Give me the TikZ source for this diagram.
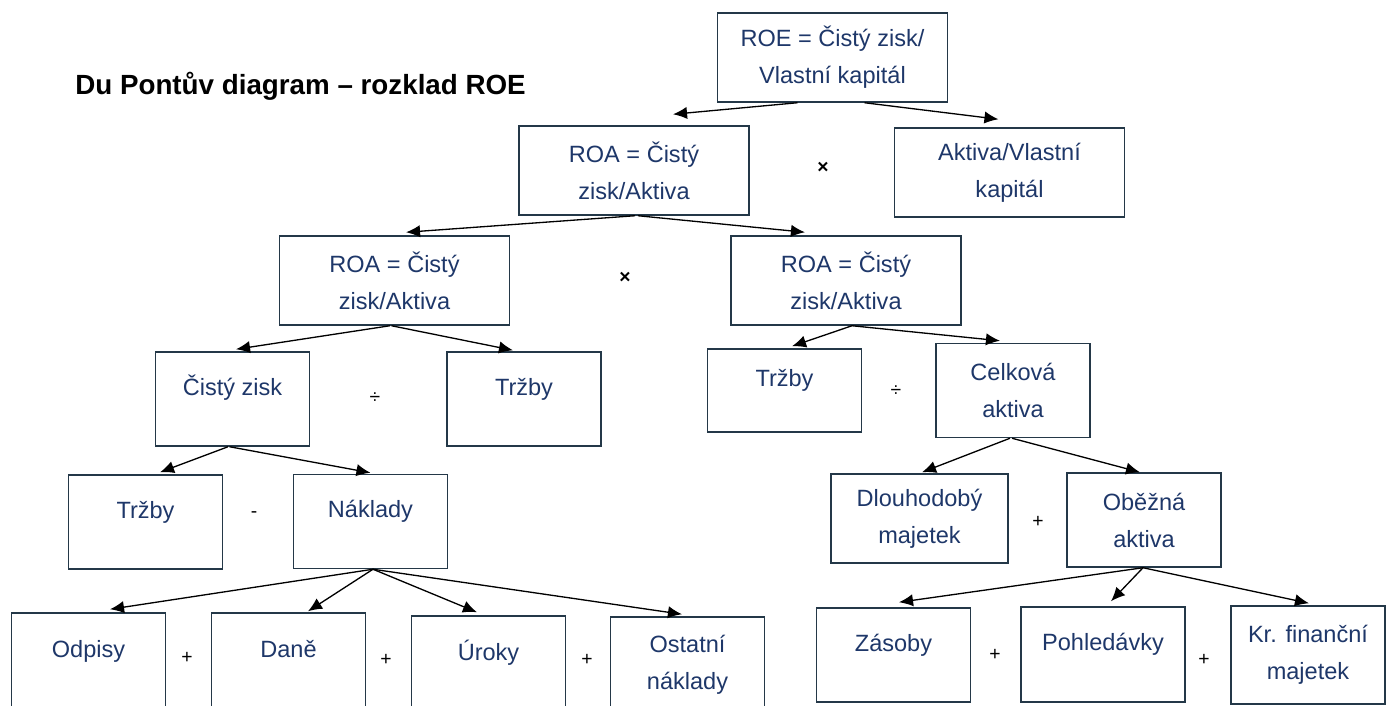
\documentclass[tikz,border=0pt]{standalone}
\usepackage{fontspec}
\setmainfont{Liberation Sans}
\usetikzlibrary{calc,arrows.meta}
\definecolor{boxline}{RGB}{36,56,72}
\definecolor{boxtext}{RGB}{30,55,105}

\begin{document}
\begin{tikzpicture}[
x=0.02cm, y=-0.02cm,
boxw/.style={
  draw=boxline,
  line width=0.85pt,
  text=boxtext,
  align=center,
  inner sep=0pt,
  font=\fontsize{13.4}{21}\selectfont,
  minimum width=4.6cm,
  minimum height=1.78cm
},
boxs/.style={
  boxw,
  minimum width=3.08cm,
  minimum height=1.88cm
},
onel/.style={
  text height=10pt,
  text depth=14pt
},
oper/.style={
  font=\fontsize{11}{12}\selectfont,
  inner sep=0pt
},
arr/.style={
  -{Latex[length=8pt,width=7pt]},
  line width=0.75pt
}
]
\useasboundingbox (0,0) rectangle (1387,706);
\clip (0,0) rectangle (1387,706);

\node[anchor=base west,inner sep=0pt,font=\fontsize{15.8}{19}\selectfont\bfseries] (title)
  at (75,95) {Du Pontův diagram – rozklad ROE};

% level 1 and 2
\node[boxw] (roe) at (832.5,57.5) {ROE = Čistý zisk/\\Vlastní kapitál};
\node[boxw] (roa) at (634,170.5) {ROA = Čistý\\zisk/Aktiva};
\node[boxw] (aktiva) at (1009.5,172.5) {Aktiva/Vlastní\\kapitál};
\node[oper,font=\fontsize{11}{12}\selectfont\bfseries] (krat1) at (823,168) {×};

% level 3
\node[boxw] (roaL) at (394.5,280.5) {ROA = Čistý\\zisk/Aktiva};
\node[boxw] (roaR) at (846,280.5) {ROA = Čistý\\zisk/Aktiva};
\node[oper,font=\fontsize{11}{12}\selectfont\bfseries] (krat2) at (625,278) {×};

% level 4
\node[boxs,onel] (zisk) at (232.5,399) {Čistý zisk};
\node[boxs,onel] (trzbyA) at (524,399) {Tržby};
\node[oper] (del1) at (375,398) {÷};
\node[boxs,onel,minimum height=1.66cm] (trzbyB) at (784.5,390.5) {Tržby};
\node[boxs] (celk) at (1013,390.5) {Celková\\aktiva};
\node[oper] (del2) at (896,391) {÷};

% level 5
\node[boxs,onel] (trzbyC) at (145.5,522) {Tržby};
\node[boxs,onel] (nakl) at (370.5,521.5) {Náklady};
\node[oper] (minus) at (254,515) {-};
\node[boxs,minimum width=3.54cm,minimum height=1.78cm] (dlouh) at (919.5,518.5) {Dlouhodobý\\majetek};
\node[boxs] (obez) at (1144,520) {Oběžná\\aktiva};
\node[oper] (plus1) at (1038,522) {+};

% level 6
\node[boxs,onel,minimum height=1.92cm] (odp) at (88.5,661) {Odpisy};
\node[boxs,onel,minimum height=1.92cm] (dane) at (288.5,661) {Daně};
\node[boxs,onel,minimum height=1.92cm] (uroky) at (488.5,664) {Úroky};
\node[boxs,minimum height=1.92cm] (ost) at (687.5,665) {Ostatní\\náklady};
\node[oper] (plus2) at (187,658) {+};
\node[oper] (plus3) at (386,660) {+};
\node[oper] (plus4) at (587,660) {+};
\node[boxs,onel] (zas) at (893.5,655) {Zásoby};
\node[boxs,onel,minimum width=3.28cm,minimum height=1.9cm] (pohl) at (1103,654.5) {Pohledávky};
\node[boxs,minimum height=1.96cm] (kr) at (1308,655) {Kr. finanční\\majetek};
\node[oper] (plus5) at (995,655) {+};
\node[oper] (plus6) at (1204,660) {+};

% connectors
\draw[arr] ($(roe.south)+(-35,0)$) -- ($(roa.north)+(39,-11)$);
\draw[arr] ($(roe.south)+(32,0)$) -- ($(aktiva.north)+(-11,-8)$);
\draw[arr] ($(roa.south)+(1,0)$) -- ($(roaL.north)+(11.5,-3)$);
\draw[arr] ($(roa.south)+(4,0)$) -- ($(roaR.north)+(-41,-3)$);
\draw[arr] ($(roaL.south)+(-4.5,0)$) -- ($(zisk.north)+(3.5,-2)$);
\draw[arr] ($(roaL.south)+(-3,0)$) -- ($(trzbyA.north)+(-11,-1)$);
\draw[arr] ($(roaR.south)+(6,0)$) -- ($(trzbyB.north)+(7.5,-2)$);
\draw[arr] ($(roaR.south)+(6,0)$) -- ($(celk.north)+(-13,-2)$);
\draw[arr] ($(zisk.south)+(-4.5,0)$) -- ($(trzbyC.north)+(14.5,-2)$);
\draw[arr] ($(zisk.south)+(-3,0)$) -- ($(nakl.north)+(0,-1)$);
\draw[arr] ($(celk.south)+(-3,0)$) -- ($(dlouh.north)+(2.5,-1)$);
\draw[arr] ($(celk.south)+(-1,0)$) -- ($(obez.north)+(-4,0)$);
\draw[arr] ($(nakl.south)+(2.5,0)$) -- ($(odp.north)+(21.5,-3)$);
\draw[arr] ($(nakl.south)+(2.5,0)$) -- ($(dane.north)+(19.5,-1)$);
\draw[arr] ($(nakl.south)+(2.5,0)$) -- ($(uroky.north)+(-11.5,-3)$);
\draw[arr] ($(nakl.south)+(2.5,0)$) -- ($(ost.north)+(-5.5,-2)$);
\draw[arr] ($(obez.south)+(-1,0)$) -- ($(zas.north)+(5.5,-5)$);
\draw[arr] ($(obez.south)+(-1,0)$) -- ($(pohl.north)+(8,-5)$);
\draw[arr] ($(obez.south)+(-1,0)$) -- ($(kr.north)+(1,-2)$);

\end{tikzpicture}
\end{document}
